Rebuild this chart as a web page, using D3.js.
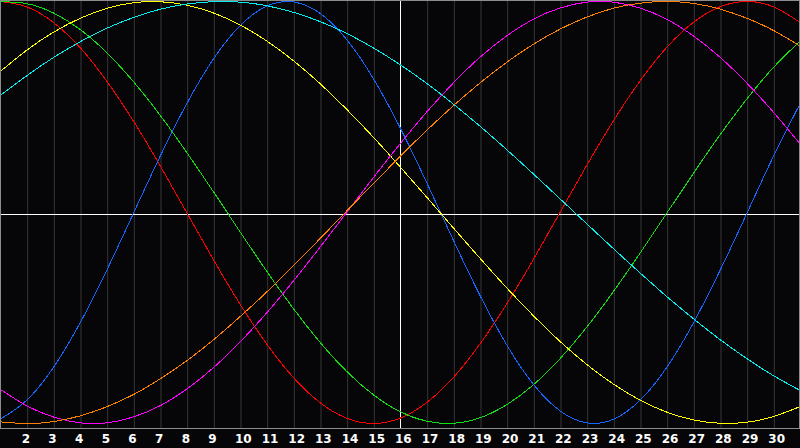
<!DOCTYPE html>
<html>
<head>
<meta charset="utf-8">
<script src="https://cdn.jsdelivr.net/npm/d3@7"></script>
<style>
  html, body { margin: 0; padding: 0; background: #060608; }
  svg { display: block; }
  .grid line { stroke: #363636; }
  .grid path { display: none; }
  .labels path, .labels line { display: none; }
  .labels text { fill: #ffffff; font-family: "DejaVu Sans", sans-serif; font-weight: bold; font-size: 12px; }
  .curve { fill: none; stroke-width: 1; shape-rendering: crispEdges; }
</style>
</head>
<body>
<svg width="800" height="448"></svg>
<script>
var days = d3.range(1, 32);
var tickDays = d3.range(2, 31);
var todayDay = 16;

var redValues = [1.00, 0.975, 0.901, 0.782, 0.623, 0.434, 0.223, 0.00, -0.223, -0.434, -0.623, -0.782, -0.901, -0.975, -1.00, -0.975,
  -0.901, -0.782, -0.623, -0.434, -0.223, 0.00, 0.223, 0.434, 0.623, 0.782, 0.901, 0.975, 1.00, 0.975, 0.901];
var greenValues = [0.999, 0.990, 0.946, 0.868, 0.758, 0.621, 0.462, 0.285, 0.099, -0.091, -0.278, -0.455, -0.615, -0.753, -0.864, -0.944,
  -0.989, -0.999, -0.973, -0.911, -0.817, -0.693, -0.544, -0.375, -0.193, -0.004, 0.185, 0.368, 0.537, 0.687, 0.812];
var blueValues = [-0.980, -0.890, -0.735, -0.524, -0.275, -0.005, 0.265, 0.515, 0.727, 0.885, 0.978, 0.998, 0.944, 0.820, 0.635, 0.403,
  0.142, -0.131, -0.393, -0.627, -0.814, -0.940, -0.997, -0.980, -0.890, -0.735, -0.524, -0.275, -0.006, 0.265, 0.515];
var yellowValues = [0.667, 0.769, 0.854, 0.920, 0.967, 0.994, 0.999, 0.983, 0.946, 0.889, 0.813, 0.720, 0.611, 0.489, 0.357, 0.217,
  0.073, -0.073, -0.217, -0.357, -0.489, -0.611, -0.720, -0.813, -0.889, -0.946, -0.983, -0.999, -0.994, -0.967, -0.920];
var cyanValues = [0.554, 0.648, 0.734, 0.809, 0.873, 0.924, 0.963, 0.988, 0.999, 0.997, 0.980, 0.949, 0.905, 0.849, 0.780, 0.701,
  0.612, 0.514, 0.409, 0.298, 0.183, 0.065, -0.053, -0.171, -0.286, -0.398, -0.503, -0.602, -0.692, -0.773, -0.843];
var magentaValues = [-0.837, -0.916, -0.969, -0.997, -0.997, -0.969, -0.916, -0.837, -0.736, -0.614, -0.476, -0.325, -0.165, 0.00, 0.165, 0.325,
  0.476, 0.614, 0.736, 0.837, 0.916, 0.969, 0.997, 0.997, 0.969, 0.916, 0.837, 0.736, 0.614, 0.476, 0.325];
var orangeValues = [-0.992, -1.000, -0.991, -0.964, -0.921, -0.863, -0.789, -0.703, -0.604, -0.494, -0.377, -0.252, -0.124, 0.007, 0.137, 0.265,
  0.389, 0.506, 0.614, 0.712, 0.797, 0.869, 0.926, 0.968, 0.992, 1.000, 0.991, 0.964, 0.921, 0.863, 0.789];

var series = [
  { color: "#ff0000", values: redValues },
  { color: "#10e010", values: greenValues },
  { color: "#1466ff", values: blueValues },
  { color: "#ffff00", values: yellowValues },
  { color: "#00f0f0", values: cyanValues },
  { color: "#ff00ff", values: magentaValues },
  { color: "#ff8000", values: orangeValues }
];

var svg = d3.select("svg");
var plotH = 428;
var x = d3.scaleLinear().domain([1, 31]).range([0, 800]);
var y = d3.scaleLinear().domain([-1, 1]).range([423.5, 1.5]);

svg.append("rect")
    .attr("width", 800).attr("height", 448)
    .attr("fill", "#060608");

// grid lines
svg.append("g")
    .attr("class", "grid")
    .attr("transform", "translate(0.5," + plotH + ")")
    .call(d3.axisBottom(x).tickValues(tickDays.filter(function (d) { return d !== todayDay; }))
      .tickSize(-plotH).tickFormat(""));

// today + zero line
svg.append("line")
    .attr("x1", x(todayDay) + 0.5).attr("x2", x(todayDay) + 0.5)
    .attr("y1", 0).attr("y2", plotH)
    .attr("stroke", "#ffffff");
svg.append("line")
    .attr("x1", 0).attr("x2", 800)
    .attr("y1", 214.5).attr("y2", 214.5)
    .attr("stroke", "#ffffff");

var line = d3.line()
    .x(function (d, i) { return x(days[i]); })
    .y(function (d) { return y(d); })
    .curve(d3.curveNatural);

svg.selectAll(".curve")
    .data(series)
    .enter().append("path")
    .attr("class", "curve")
    .attr("stroke", function (d) { return d.color; })
    .attr("d", function (d) { return line(d.values); });

// frame
svg.append("rect")
    .attr("x", 0.5).attr("y", 0.5)
    .attr("width", 799).attr("height", plotH)
    .attr("fill", "none")
    .attr("stroke", "#8c8c8c");

// day labels
var labels = svg.append("g")
    .attr("class", "labels")
    .attr("transform", "translate(0," + plotH + ")")
    .call(d3.axisBottom(x).tickValues(tickDays).tickSize(0).tickFormat(d3.format("d")));
labels.selectAll("text")
    .attr("text-anchor", "start")
    .attr("x", -5.5)
    .attr("y", 15)
    .attr("dy", "0");
</script>
</body>
</html>
